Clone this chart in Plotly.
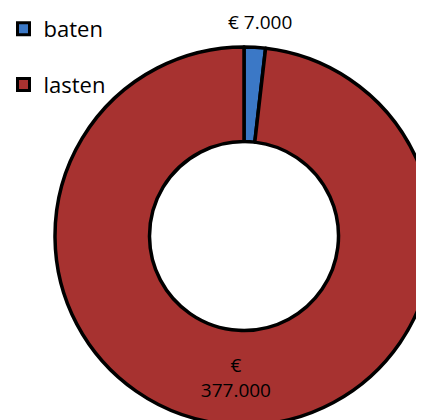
import plotly.graph_objects as go

labels = ["baten", "lasten"]
values = [7000, 377000]
colors = ["#3B78C6", "#A73230"]

W, H = 440, 430
OFF = 8  # page body margin

def euro(v):
    return "€ " + f"{v:,}".replace(",", ".")

fig = go.Figure()
fig.add_trace(go.Pie(
    labels=labels,
    values=values,
    hole=0.5,
    sort=False,
    direction="clockwise",
    rotation=0,
    marker=dict(colors=colors, line=dict(color="black", width=3.5)),
    texttemplate=["", "€<br>%{value:,.0f}"],
    textposition=["none", "inside"],
    insidetextorientation="horizontal",
    textfont=dict(family="Open Sans", size=19, color="black"),
    showlegend=False,
    domain=dict(x=[(55 - OFF) / W, (433 - OFF) / W],
                y=[1 - (425 - OFF) / H, 1 - (47 - OFF) / H]),
    hoverinfo="label+value",
))

for lab, col in zip(labels, colors):
    fig.add_trace(go.Scatter(
        x=[None], y=[None], mode="markers", name=lab, legendgroup=lab,
        marker=dict(symbol="square", size=12, color=col,
                    line=dict(color="black", width=3)),
    ))

fig.add_annotation(
    text=euro(values[0]), xref="paper", yref="paper",
    x=(260 - OFF) / W, y=1 - (22 - OFF) / H, xanchor="center", yanchor="middle",
    showarrow=False,
    font=dict(family="Open Sans", size=19, color="black"),
)

fig.update_layout(
    width=W, height=H,
    margin=dict(l=0, r=0, t=0, b=0, autoexpand=False),
    paper_bgcolor="white", plot_bgcolor="white",
    separators=",.",
    xaxis=dict(visible=False), yaxis=dict(visible=False),
    legend=dict(x=-4.5 / W, y=1, xanchor="left", yanchor="top",
                font=dict(family="Open Sans", size=22, color="black"),
                tracegroupgap=24, itemwidth=30, bgcolor="rgba(0,0,0,0)"),
)

fig.write_html("out.html")
